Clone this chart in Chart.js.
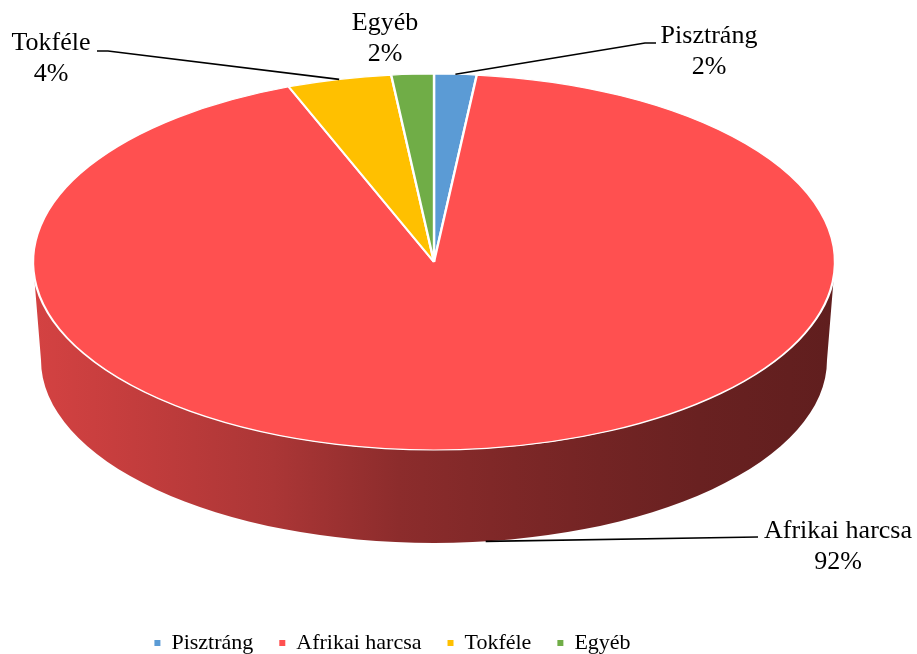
<!DOCTYPE html>
<html><head><meta charset="utf-8">
<script src="https://cdn.jsdelivr.net/npm/chart.js@4/dist/chart.umd.min.js"></script>
<style>html,body{margin:0;padding:0;background:#fff}#wrap{width:917px;height:654px;position:relative}</style>
</head><body><div id="wrap"><canvas id="c" width="917" height="654"></canvas></div>
<script>
// ---- data ----
const categories = ['Pisztráng', 'Afrikai harcsa', 'Tokféle', 'Egyéb'];
const shares = [1.7, 92.4, 4.2, 1.7];
const colors = ['#5B9BD5', '#FF5050', '#FFC000', '#70AD47'];

// ---- 3D look geometry (layout only) ----
const TOP = {cx: 434, cy: 262, rx: 401, ry: 188};
const BOT = {cx: 434, cy: 360, rx: 393, ry: 183};
const sideShade = [[0,0.83],[0.1,0.78],[0.3,0.67],[0.457,0.55],[0.6,0.49],[0.707,0.45],[0.83,0.41],[1,0.375]];
const labelLayout = [
  {tx: 709, ty: 43, pts: [[645, 43], [656, 43]]},
  {tx: 838, ty: 538, pts: [[758, 537]]},
  {tx: 51, ty: 50, pts: [[108, 51], [97, 51]]},
  {tx: 385, ty: 30, pts: null}
];
const LABEL_FONT = '26px "Liberation Serif", "Times New Roman", serif';

function rgb(hex){const n=parseInt(hex.slice(1),16);return [(n>>16)&255,(n>>8)&255,n&255];}
function shade(hex,f){const c=rgb(hex);return 'rgb('+c.map(v=>Math.round(v*f)).join(',')+')';}

const pie3d = {
  id: 'pie3d',
  beforeDatasetsDraw(chart) {
    const ctx = chart.ctx;
    const meta = chart.getDatasetMeta(0);
    const p0 = meta.data[0].getProps(['x','y','outerRadius'], true);
    // side walls
    meta.data.forEach((arc, i) => {
      const {startAngle, endAngle} = arc.getProps(['startAngle','endAngle'], true);
      const g = ctx.createLinearGradient(TOP.cx - TOP.rx, 0, TOP.cx + TOP.rx, 0);
      sideShade.forEach(([s,f]) => g.addColorStop(s, shade(colors[i], f)));
      for (const k of [-1, 0, 1]) {
        const a = Math.max(startAngle + 2*Math.PI*k, 0);
        const b = Math.min(endAngle + 2*Math.PI*k, Math.PI);
        if (b > a) {
          ctx.beginPath();
          ctx.ellipse(TOP.cx, TOP.cy, TOP.rx, TOP.ry, 0, a, b, false);
          ctx.ellipse(BOT.cx, BOT.cy, BOT.rx, BOT.ry, 0, b, a, true);
          ctx.closePath();
          ctx.fillStyle = g;
          ctx.fill();
        }
      }
    });
    // tilt the top face
    ctx.save();
    ctx.translate(TOP.cx, TOP.cy);
    ctx.scale(TOP.rx / p0.outerRadius, TOP.ry / p0.outerRadius);
    ctx.translate(-p0.x, -p0.y);
  },
  afterDatasetsDraw(chart) {
    chart.ctx.restore();
  },
  afterDraw(chart) {
    const ctx = chart.ctx;
    const meta = chart.getDatasetMeta(0);
    const total = shares.reduce((a,b)=>a+b,0);
    ctx.save();
    ctx.strokeStyle = '#000';
    ctx.lineWidth = 1.6;
    ctx.fillStyle = '#000';
    ctx.font = LABEL_FONT;
    ctx.textAlign = 'center';
    ctx.textBaseline = 'alphabetic';
    meta.data.forEach((arc, i) => {
      const {startAngle, endAngle} = arc.getProps(['startAngle','endAngle'], true);
      const m = (startAngle + endAngle) / 2;
      const L = labelLayout[i];
      if (L.pts) {
        const front = Math.sin(m) > 0;
        const E = front ? BOT : TOP;
        const ax = E.cx + E.rx * Math.cos(m), ay = E.cy + E.ry * Math.sin(m);
        ctx.beginPath();
        ctx.moveTo(ax, ay);
        L.pts.forEach(p => ctx.lineTo(p[0], p[1]));
        ctx.stroke();
      }
      ctx.fillText(categories[i], L.tx, L.ty);
      ctx.fillText(Math.round(shares[i] / total * 100) + '%', L.tx, L.ty + 30.5);
    });
    ctx.restore();
  }
};

new Chart(document.getElementById('c'), {
  type: 'pie',
  data: {
    labels: categories,
    datasets: [{
      data: shares,
      backgroundColor: colors,
      borderColor: '#ffffff',
      borderWidth: 1.8,
      clip: false
    }]
  },
  options: {
    responsive: false,
    animation: false,
    layout: {padding: {left: 0, right: 132, top: 0, bottom: -10}},
    plugins: {
      tooltip: {enabled: false},
      legend: {
        position: 'bottom',
        labels: {
          font: {family: '"Liberation Serif", "Times New Roman", serif', size: 22},
          color: '#000',
          boxWidth: 6,
          boxHeight: 6,
          padding: 26,
          generateLabels: (chart) => chart.data.labels.map((l, i) => ({
            text: l, fillStyle: colors[i], strokeStyle: colors[i], lineWidth: 0,
            hidden: false, index: i, fontColor: '#000'
          }))
        }
      }
    }
  },
  plugins: [pie3d]
});
</script>
</body></html>
